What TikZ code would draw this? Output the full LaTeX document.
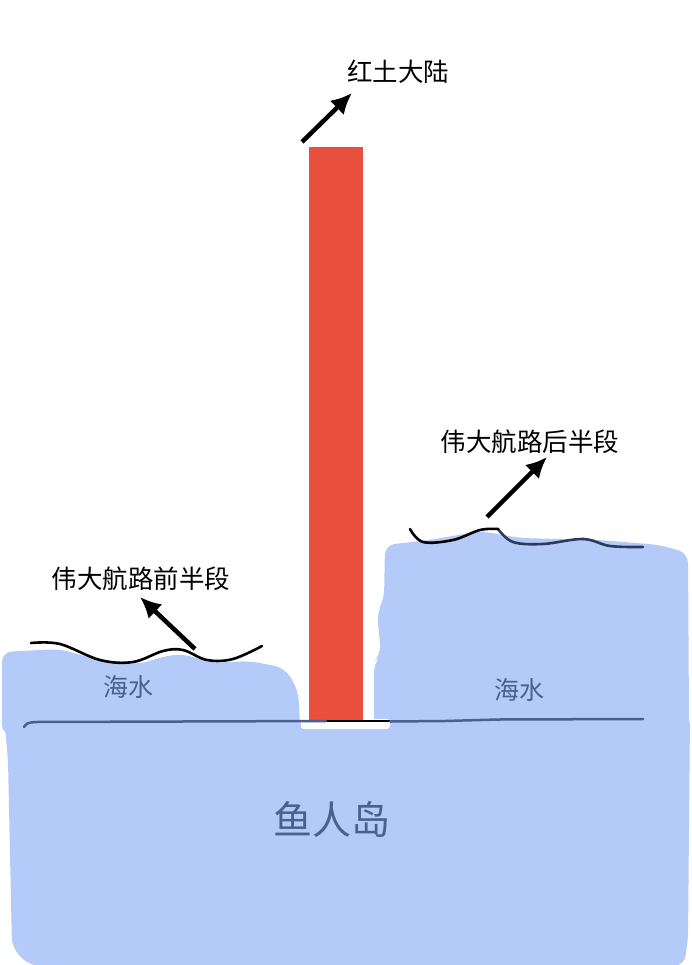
\documentclass[tikz,border=0pt]{standalone}
\usepackage{fontspec}
\setmainfont{Noto Sans CJK SC}
\usetikzlibrary{arrows.meta}
\definecolor{seablue}{RGB}{180,202,248}
\definecolor{inkblue}{RGB}{74,96,145}
\definecolor{deepink}{RGB}{45,58,92}
\definecolor{redearth}{RGB}{232,79,61}
\tikzset{>={Latex[length=21pt,width=20pt]}}
\tikzset{
  water/.style={fill=seablue, draw=none, rounded corners=10pt},
  tagtext/.style={font=\fontsize{25.5}{25.5}\selectfont, text=black},
  seatext/.style={font=\fontsize{25}{25}\selectfont, text=inkblue},
  pointer/.style={->, line width=4.5pt, black},
  wave/.style={line width=2.6pt, line cap=round, line join=round},
}

\begin{document}
\begin{tikzpicture}[x=1pt, y=-1pt, line join = round]
    \useasboundingbox (0,0) rectangle (691,965);
    % sea and island
    \fill[water] (4,716) -- (300,716) -- (302,729) -- (390,729) -- (392,716) -- (690,714)
        -- (688,940) -- (684,966) -- (30,966) -- (12,948) -- (8,760) -- cycle;
    \fill[water] (2,652) -- (60,649) -- (105,662) -- (140,664) -- (165,656) -- (185,654)
        -- (210,663) -- (250,661) -- (285,668) -- (298,690) -- (300,722) -- (300,735)
        -- (2,735) -- cycle;
    \fill[water] (385,545) -- (430,540) -- (480,531) -- (520,538) -- (600,540) -- (660,545)
        -- (688,553) -- (689,722) -- (689,735) -- (374,735) -- (374,662) -- (381,655)
        -- (377,612) -- (384,600) -- cycle;
    \fill[white, rounded corners=3pt] (301,719) rectangle (390,729);
    % red line
    \fill[redearth] (309,147) rectangle (363,720);
    \draw[line width=2.5pt, black] (326,721) -- (390,721);
    \draw[line width=2.5pt, inkblue, line cap=round] (24,727) .. controls (27,723) .. (35,722)
        -- (326,721);
    \draw[line width=2.5pt, inkblue, line cap=round] (390,721.5) -- (445,721) -- (498,719.5) -- (643,719);
    % waves
    \draw[wave, black] plot[smooth, tension=0.6] coordinates {(31,643) (60,644) (100,660) (133,662)
        (163,651) (183,650) (207,660) (233,659) (262,646)};
    \draw[wave, deepink] plot[smooth, tension=0.6] coordinates {(498,529) (513,542) (543,544)
        (583,539) (610,546) (643,547)};
    \draw[wave, black] plot[smooth, tension=0.6] coordinates {(410,529) (423,542) (453,540)
        (480,530) (498,529)};
    % labels
    \node[tagtext] (redline) at (398,72) {红土大陆};
    \node[tagtext] (firsthalf) at (141,579) {伟大航路前半段};
    \node[tagtext] (secondhalf) at (530,442) {伟大航路后半段};
    \node[seatext] (leftsea) at (128,687) {海水};
    \node[seatext] (rightsea) at (519,690) {海水};
    \node[seatext, font=\fontsize{39}{39}\selectfont] (island) at (332,820) {鱼人岛};
    % pointers
    \coordinate (redtail) at (302,142);
    \coordinate (redtip) at (352,93);
    \coordinate (firsttail) at (195,649);
    \coordinate (firsttip) at (140,597);
    \coordinate (secondtail) at (487,517);
    \coordinate (secondtip) at (547,457);
    \draw[pointer] (redtail) -- (redtip);
    \draw[pointer] (firsttail) -- (firsttip);
    \draw[pointer] (secondtail) -- (secondtip);
\end{tikzpicture}
\end{document}
